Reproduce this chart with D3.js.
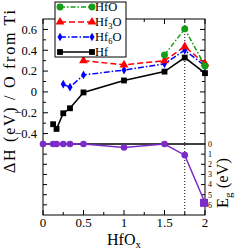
<!DOCTYPE html>
<html>
<head>
<meta charset="utf-8">
<script src="https://cdn.jsdelivr.net/npm/d3@7.9.0/dist/d3.min.js"></script>
<style>
  body { margin: 0; background: #fff; }
  text { font-family: "Liberation Serif", "DejaVu Serif", serif; fill: #000; }
</style>
</head>
<body>
<svg id="chart" width="242" height="249"></svg>
<script>
// x positions (HfO_x composition)
const hfoX  = [1.5, 1.75, 2];
const hfoY  = [0.355, 0.605, 0.25];
const hf3oX = [0.5, 1, 1.5, 1.75, 2];
const hf3oY = [0.30, 0.26, 0.30, 0.435, 0.27];
const hf6oX = [0.25, 0.333, 0.5, 1, 1.5, 1.75, 2];
const hf6oY = [0.074, 0.045, 0.163, 0.21, 0.27, 0.40, 0.25];
const hfX   = [0.125, 0.167, 0.25, 0.333, 0.5, 1, 1.5, 1.75, 2];
const hfY   = [-0.31, -0.355, -0.205, -0.157, -0.005, 0.11, 0.195, 0.33, 0.18];
const egX   = [0, 0.125, 0.167, 0.25, 0.333, 0.5, 1, 1.5, 1.75, 2];
const egY   = [0, 0, 0, 0, 0, 0, 0.35, 0, 1.1, 5.8];

const xTicks = [0, 0.5, 1, 1.5, 2];
const yTicks = [-0.4, -0.2, 0, 0.2, 0.4, 0.6];
const egTicks = [0, 1, 2, 3, 4, 5, 6];

const svg = d3.select('#chart');
const x = d3.scaleLinear().domain([0, 2]).range([43, 205]);
const yTop = d3.scaleLinear().domain([-0.5, 0.7]).range([144, 19]);
const yBot = d3.scaleLinear().domain([0, 7]).range([144, 215]);

// frames
svg.append('rect').attr('x', 43).attr('y', 19).attr('width', 162).attr('height', 125)
   .attr('fill', 'none').attr('stroke', '#000').attr('stroke-width', 1);
svg.append('rect').attr('x', 43).attr('y', 144).attr('width', 162).attr('height', 71)
   .attr('fill', 'none').attr('stroke', '#000').attr('stroke-width', 1);

// inward ticks
function ticks(g, vals, fn) {
    vals.forEach(v => {
        const [x1, y1, x2, y2] = fn(v);
        g.append('line').attr('x1', x1).attr('y1', y1).attr('x2', x2).attr('y2', y2)
         .attr('stroke', '#000').attr('stroke-width', 1);
    });
}
const tg = svg.append('g');
const xMinor = d3.range(0, 2.01, 0.25);
const xMajorSet = new Set(xTicks);
ticks(tg, xMinor, v => [x(v), 19, x(v), 19 + (xMajorSet.has(v) ? 5 : 3)]);
ticks(tg, xMinor, v => [x(v), 215, x(v), 215 - (xMajorSet.has(v) ? 5 : 3)]);
const yMinor = d3.range(-0.4, 0.65, 0.1).map(v => +v.toFixed(2));
ticks(tg, yMinor, v => {
    const major = Math.abs(Math.round(v * 10)) % 2 === 0;
    return [43, yTop(v), 43 + (major ? 5 : 3), yTop(v)];
});
ticks(tg, yMinor, v => {
    const major = Math.abs(Math.round(v * 10)) % 2 === 0;
    return [205, yTop(v), 205 - (major ? 5 : 3), yTop(v)];
});
ticks(tg, d3.range(1, 7), v => [43, yBot(v), 47, yBot(v)]);
ticks(tg, d3.range(1, 7), v => [205, yBot(v), 201, yBot(v)]);

// tick labels
svg.append('g').selectAll('text').data(xTicks).join('text')
   .attr('x', d => x(d)).attr('y', 227).attr('text-anchor', 'middle')
   .attr('font-size', 13).text(d => d);
svg.append('g').selectAll('text').data(yTicks).join('text')
   .attr('x', 37).attr('y', d => yTop(d) + 4.3).attr('text-anchor', 'end')
   .attr('font-size', 12.5).text(d => d === 0 ? '0' : d3.format('.1f')(d));
svg.append('g').selectAll('text').data(egTicks).join('text')
   .attr('x', 208).attr('y', d => yBot(d) + 2.8)
   .attr('font-size', 8).text(d => d);

// dotted line at x = 1.75
svg.append('line').attr('x1', x(1.75)).attr('x2', x(1.75)).attr('y1', 19).attr('y2', 215)
   .attr('stroke', '#000').attr('stroke-width', 1).attr('stroke-dasharray', '1,2');

// series
const series = [
    { xs: hfX,   ys: hfY,   color: '#000000', dash: null,        sym: d3.symbolSquare,   size: 34 },
    { xs: hf6oX, ys: hf6oY, color: '#0000ff', dash: '6,2,1.5,2', sym: d3.symbolDiamond,  size: 22 },
    { xs: hf3oX, ys: hf3oY, color: '#ff0000', dash: '6,3',       sym: d3.symbolTriangle, size: 34 },
    { xs: hfoX,  ys: hfoY,  color: '#14a014', dash: '5,2,1.5,2', sym: d3.symbolCircle,   size: 38 },
];
const line = d3.line();
series.forEach(s => {
    const pts = s.xs.map((v, i) => [x(v), yTop(s.ys[i])]);
    svg.append('path').attr('d', line(pts)).attr('fill', 'none')
       .attr('stroke', s.color).attr('stroke-width', 1.5)
       .attr('stroke-dasharray', s.dash);
    svg.append('g').selectAll('path').data(pts).join('path')
       .attr('transform', d => `translate(${d[0]},${d[1]})`)
       .attr('d', d3.symbol().type(s.sym).size(s.size)).attr('fill', s.color);
});

// band gap series
const purple = '#7a2bc8';
const egPts = egX.map((v, i) => [x(v), yBot(egY[i])]);
svg.append('path').attr('d', line(egPts)).attr('fill', 'none')
   .attr('stroke', purple).attr('stroke-width', 1.5);
svg.append('g').selectAll('circle').data(egPts).join('circle')
   .attr('cx', d => d[0]).attr('cy', d => d[1]).attr('r', 3.3).attr('fill', purple);
svg.append('rect').attr('x', x(2) - 5).attr('y', yBot(5.8) - 4).attr('width', 8).attr('height', 8)
   .attr('fill', purple);

// legend
const legend = svg.append('g');
legend.append('rect').attr('x', 55).attr('y', 2).attr('width', 71).attr('height', 55)
      .attr('fill', '#fff').attr('stroke', '#000').attr('stroke-width', 1);
const legendNames = [['HfO', ''], ['Hf', '3', 'O'], ['Hf', '6', 'O'], ['Hf', '']];
const legendOrder = [3, 2, 1, 0];
legendOrder.forEach((si, row) => {
    const s = series[si];
    const yy = 7 + row * 15;
    legend.append('line').attr('x1', 60).attr('x2', 92).attr('y1', yy).attr('y2', yy)
          .attr('stroke', s.color).attr('stroke-width', 1.5).attr('stroke-dasharray', s.dash);
    [60, 92].forEach(px => legend.append('path').attr('transform', `translate(${px},${yy})`)
          .attr('d', d3.symbol().type(s.sym).size(s.size)).attr('fill', s.color));
    const n = legendNames[row];
    const t = legend.append('text').attr('x', 95).attr('y', yy + 4.3).attr('font-size', 12.5);
    t.append('tspan').text(n[0]);
    if (n[1]) {
        t.append('tspan').attr('font-size', 8.5).attr('dy', 3).text(n[1]);
        t.append('tspan').attr('dy', -3).text(n[2]);
    }
});

// axis titles
const xl = svg.append('text').attr('x', 107).attr('y', 245).attr('font-size', 16);
xl.append('tspan').text('HfO');
xl.append('tspan').attr('font-size', 11).attr('dy', 3).text('x');

svg.append('text').attr('transform', 'translate(14.5,173) rotate(-90)')
   .attr('font-size', 16).attr('textLength', 163).attr('lengthAdjust', 'spacing')
   .text('ΔH (eV) / O from Ti');

const el = svg.append('text').attr('transform', 'translate(228,208) rotate(-90)')
   .attr('font-size', 16.5);
el.append('tspan').text('E');
el.append('tspan').attr('font-size', 11).attr('dy', 4).text('g');
el.append('tspan').attr('dy', -4).text(' (eV)');
</script>
</body>
</html>
